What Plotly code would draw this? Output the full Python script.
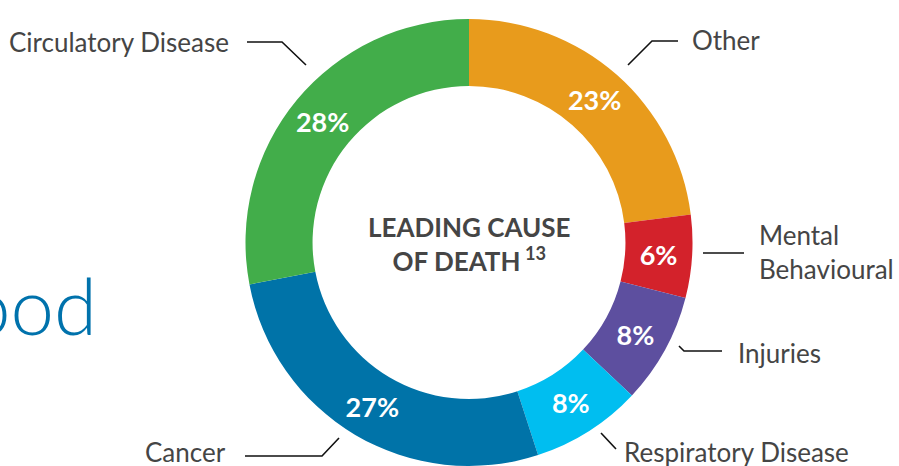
import plotly.graph_objects as go

W, H = 899, 466

causes = ["Other", "Mental Behavioural", "Injuries", "Respiratory Disease", "Cancer", "Circulatory Disease"]
shares = [23, 6, 8, 8, 27, 28]
colors = ["#E89B1C", "#D3222B", "#5D4F9F", "#00BEF0", "#0073A8", "#42AD4A"]
pct_labels = [f"{v}%" for v in shares]

def px(x):
    return x / W

def py(y):
    return 1 - y / H

fig = go.Figure()
fig.add_trace(go.Pie(
    labels=causes,
    values=shares,
    text=pct_labels,
    textinfo="text",
    textposition="inside",
    insidetextorientation="horizontal",
    textfont=dict(family="Lato", size=27, color="white", weight="bold"),
    marker=dict(colors=colors, line=dict(width=0)),
    hole=0.70,
    sort=False,
    direction="clockwise",
    rotation=0,
    showlegend=False,
    hoverinfo="label+percent",
    domain=dict(x=[px(469 - 240), px(469 + 240)], y=[0, py(19)]),
))

label_font = dict(family="Lato", size=26, color="#454545")
annotations = [
    dict(x=px(231), y=py(42), text="Circulatory Disease", xanchor="right", yanchor="middle"),
    dict(x=px(690), y=py(40), text="Other", xanchor="left", yanchor="middle"),
    dict(x=px(757), y=py(252), text="Mental<br>Behavioural", xanchor="left", yanchor="middle", align="left"),
    dict(x=px(736), y=py(353), text="Injuries", xanchor="left", yanchor="middle"),
    dict(x=px(622), y=py(452), text="Respiratory Disease", xanchor="left", yanchor="middle"),
    dict(x=px(228), y=py(452), text="Cancer", xanchor="right", yanchor="middle"),
]
for a in annotations:
    a.update(xref="paper", yref="paper", showarrow=False, font=label_font)

annotations.append(dict(
    x=px(469), y=py(244), xref="paper", yref="paper", showarrow=False,
    text="LEADING CAUSE<br>OF DEATH<sup style='font-size:11px'> 13</sup>",
    font=dict(family="Lato", size=26, color="#454545", weight="bold"),
    align="center", xanchor="center", yanchor="middle",
))
annotations.append(dict(
    x=px(99), y=py(305), xref="paper", yref="paper", showarrow=False,
    text="ood", xanchor="right", yanchor="middle",
    font=dict(family="Lato", size=78, color="#0072AC", weight=300),
))

def line_path(pts):
    d = "M " + " L ".join(f"{px(x)},{py(y)}" for x, y in pts)
    return dict(type="path", path=d, xref="paper", yref="paper",
                line=dict(color="#111111", width=1.6))

shapes = [
    line_path([(247, 42), (282, 42), (306, 65)]),
    line_path([(628, 65), (652, 41), (678, 41)]),
    line_path([(703, 253), (744, 253)]),
    line_path([(679, 346), (684, 351), (722, 351)]),
    line_path([(601, 433), (616, 449)]),
    line_path([(245, 456), (322, 456), (339, 438)]),
]

fig.update_layout(
    width=W, height=H,
    margin=dict(l=0, r=0, t=0, b=0),
    paper_bgcolor="white",
    plot_bgcolor="white",
    annotations=annotations,
    shapes=shapes,
)

fig.write_html("out.html", config={"displayModeBar": False},
               post_script="document.body.style.margin='0px';")
